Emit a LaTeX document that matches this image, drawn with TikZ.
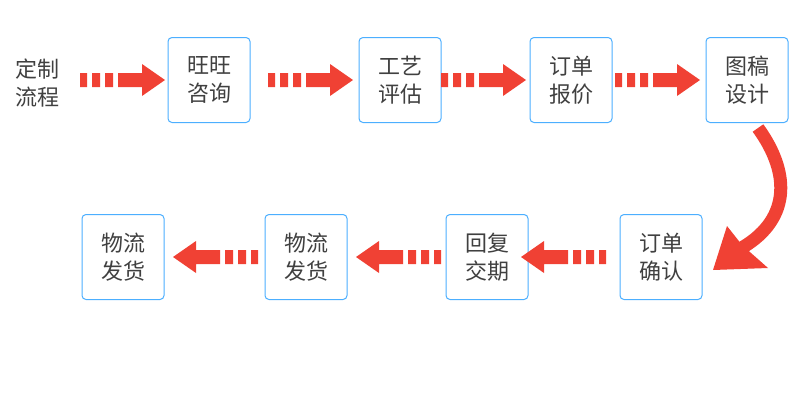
\documentclass[tikz,border=0pt]{standalone}
\usepackage{fontspec}
\setmainfont{Noto Sans CJK SC}
\begin{document}
\begin{tikzpicture}[x=1pt,y=-1pt,
  box/.style={draw=blue!45!cyan!70!white, line width=1pt, rounded corners=4pt, fill=white,
    minimum width=82pt, minimum height=85pt, align=center, font=\fontsize{22}{28}\selectfont, text=black!75, inner sep=0pt},
  lbl/.style={align=center, font=\fontsize{22}{28}\selectfont, text=black!75},
  arr/.style={fill=red!75!orange!85!black!20!red, draw=none}]
\colorlet{ar}{red!80!orange!90!black}
\definecolor{ar}{RGB}{240,65,52}
\path[use as bounding box] (0,0) rectangle (800,400);
\node[lbl] (s) at (38,83) {定制\\流程};
\node[box] (a) at (209,80) {旺旺\\咨询};
\node[box] (b) at (400,80) {工艺\\评估};
\node[box] (c) at (571,80) {订单\\报价};
\node[box] (d) at (747,80) {图稿\\设计};
\node[box] (e) at (661,257) {订单\\确认};
\node[box] (f) at (487,257) {回复\\交期};
\node[box] (g) at (306,257) {物流\\发货};
\node[box] (h) at (123,257) {物流\\发货};
\tikzset{pics/barrow/.style={code={
  \fill[ar] (0,-7) rectangle (7,7) (12,-7) rectangle (20,7) (25,-7) rectangle (33,7);
  \fill[ar] (38,-7) -- (62,-7) -- (62,-16) -- (85,0) -- (62,16) -- (62,7) -- (38,7) -- cycle;}}}
\path (80,80) pic {barrow};
\path (268,80) pic {barrow};
\path (441,80) pic {barrow};
\path (615,80) pic {barrow};
\path (606,257) pic[xscale=-1] {barrow};
\path (441,257) pic[xscale=-1] {barrow};
\path (258,257) pic[xscale=-1] {barrow};
\coordinate (c1) at (758,128);
\coordinate (c2) at (738,250);
\draw[ar, line width=13pt] (c1) .. controls (792,175) and (790,222) .. (c2);
\fill[ar] (713,270) -- (727,226) -- (742,245) -- (768,268) -- cycle;
\end{tikzpicture}
\end{document}
